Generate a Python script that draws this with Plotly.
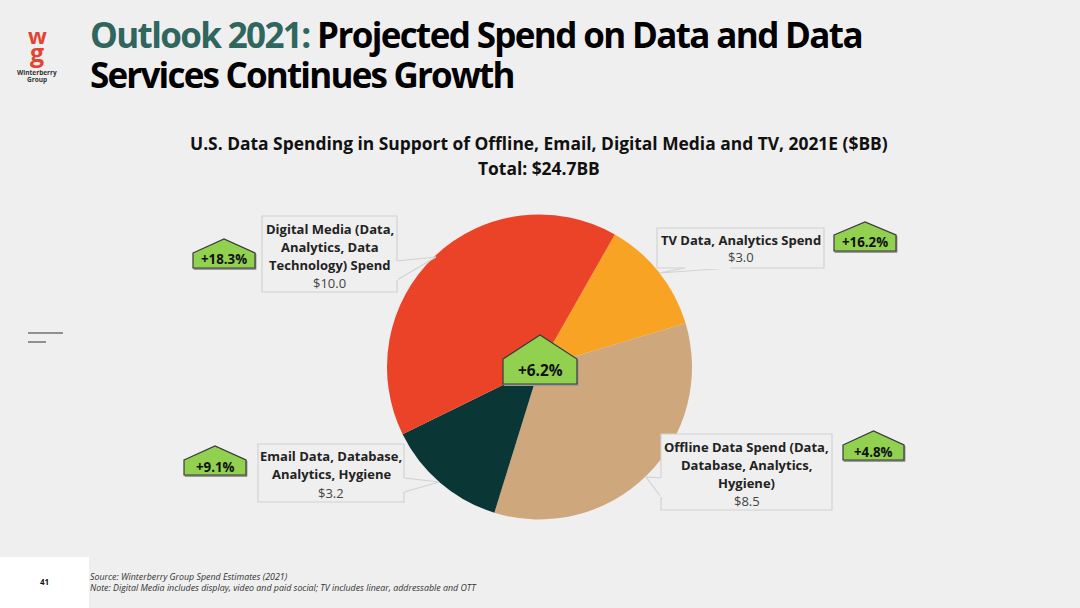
import plotly.graph_objects as go

W, H = 1080, 608
BG = '#efefef'
FONT = 'Open Sans'

# slice order follows the pie clockwise from the top right
categories = ['TV Data, Analytics Spend',
              'Offline Data Spend (Data, Database, Analytics, Hygiene)',
              'Email Data, Database, Analytics, Hygiene',
              'Digital Media (Data, Analytics, Data Technology) Spend']
values = [3.0, 8.5, 3.2, 10.0]
colors = ['#f9a324', '#cea77c', '#0a3636', '#ea4327']

callout_lines = [['TV Data, Analytics Spend'],
                 ['Offline Data Spend (Data,', 'Database, Analytics,', 'Hygiene)'],
                 ['Email Data, Database,', 'Analytics, Hygiene'],
                 ['Digital Media (Data,', 'Analytics, Data', 'Technology) Spend']]
callout_values = ['$3.0', '$8.5', '$3.2', '$10.0']
growth_labels = ['+16.2%', '+4.8%', '+9.1%', '+18.3%', '+6.2%']


def px_x(x):
    return x / W


def px_y(y):
    return 1 - y / H


def poly(points, fill, line_color, line_width=1):
    path = 'M' + ' L'.join(f'{px_x(x):.5f},{px_y(y):.5f}' for x, y in points) + ' Z'
    return dict(type='path', xref='paper', yref='paper', path=path, fillcolor=fill,
                line=dict(color=line_color, width=line_width), layer='above')


def label(x, y, text, size, color='#222222', weight=400, anchor='center', style='normal', family=FONT):
    return dict(xref='paper', yref='paper', x=px_x(x), y=px_y(y), text=text, showarrow=False,
                xanchor=anchor, yanchor='middle', align=anchor,
                font=dict(family=family, size=size, color=color, weight=weight, style=style))


shapes = []
annotations = []

# white page number tab and the two short rules on the left
shapes.append(poly([(0, 557), (89, 557), (89, 608), (0, 608)], 'white', 'white', 0))
shapes.append(poly([(28, 333), (63, 333)], BG, '#333333', 1.2))
shapes.append(poly([(28, 342), (46, 342)], BG, '#333333', 1.2))

# callout boxes: box corners, then the tail (start on box, tip, end on box)
boxes = [
    ((657, 228, 824, 268), [(730, 268), (659, 273), (685, 268)]),
    ((661, 434, 832, 510), [(661, 497), (646, 477), (661, 478)]),
    ((258, 444, 404, 502), [(404, 492), (439, 482), (404, 478)]),
    ((262, 216, 397, 292), [(397, 280), (436, 257), (397, 261)]),
]
for (x0, y0, x1, y1), tail in boxes:
    shapes.append(poly([(x0, y0), (x1, y0), (x1, y1), (x0, y1)], BG, '#d2d2d2', 1.2))
    shapes.append(poly(tail, BG, '#d2d2d2', 1.2))
    # hide the box edge under the tail
    shapes.append(poly([tail[0], tail[2]], BG, BG, 2))

# text rows inside each callout
text_rows = [[240], [447, 465, 483], [456, 474], [229, 247, 265]]
value_rows = [257, 501, 493, 283]
for lines, ys, val, vy, box in zip(callout_lines, text_rows, callout_values, value_rows, boxes):
    cx = (box[0][0] + box[0][2]) / 2
    for line, y in zip(lines, ys):
        annotations.append(label(cx, y, line, 13, weight=700))
    annotations.append(label(cx, vy, val, 13, color='#444444'))

# growth badges: left, right, apex y, shoulder y, bottom y
badges = [(834, 896, 222, 235, 251), (843, 904, 431, 445, 460), (184, 246, 446, 460, 475),
          (193, 255, 239, 253, 268), (503, 577, 335, 359, 384)]
for (x0, x1, top, mid, bot), txt in zip(badges, growth_labels):
    cx = (x0 + x1) / 2
    shapes.append(poly([(x0 + 1, mid + 1), (cx + 1, top + 1), (x1 + 1, mid + 1), (x1 + 1, bot + 1.5), (x0 + 1, bot + 1.5)],
                       '#9a9a9a', '#9a9a9a', 1))
    shapes.append(poly([(x0, mid), (cx, top), (x1, mid), (x1, bot), (x0, bot)], '#92d050', '#3a3a3a', 1.2))
    annotations.append(label(cx, (mid + bot) / 2 - 1, txt,
                             15.4 if x1 - x0 > 70 else 13.3, color='#111111', weight=700))

# heading, tightened to the slide's narrow letter fit
TIGHT = 'letter-spacing:-1.64px'
annotations.append(label(88, 35, f'<span style="color:#2f665e;{TIGHT}">Outlook 2021:</span>'
                                 f'<span style="{TIGHT}"> Projected Spend on Data and Data</span>',
                         35, color='#000000', weight=700, anchor='left'))
annotations.append(label(88, 74, '<span style="letter-spacing:-1.8px">Services Continues Growth</span>',
                         35, color='#000000', weight=700, anchor='left'))
annotations.append(label(539, 143, 'U.S. Data Spending in Support of Offline, Email, Digital Media and TV, 2021E ($BB)',
                         17.4, color='#111111', weight=700))
annotations.append(label(539, 168, 'Total: $24.7BB', 17.4, color='#111111', weight=700))

# logo
annotations.append(label(37, 35, 'w', 22, color='#e5432f', weight=700))
annotations.append(label(37, 52, 'g', 25, color='#e5432f', weight=700))
annotations.append(label(37, 73, 'Winterberry', 6.5, color='#333333', weight=700))
annotations.append(label(37, 80, 'Group', 6.5, color='#333333', weight=700))

# footer
annotations.append(label(44, 581, '41', 8, color='#111111', weight=700))
annotations.append(label(88, 577, 'Source: Winterberry Group Spend Estimates (2021)', 8.85, color='#333333',
                         anchor='left', style='italic'))
annotations.append(label(88, 588, 'Note: Digital Media includes display, video and paid social; TV includes linear, addressable and OTT',
                         8.85, color='#333333', anchor='left', style='italic'))

fig = go.Figure(go.Pie(
    labels=categories, values=values, sort=False, direction='clockwise', rotation=29.6,
    marker=dict(colors=colors, line=dict(width=0)), textinfo='none', hoverinfo='label+value',
    domain=dict(x=[387 / W, 692 / W], y=[1 - 520 / H, 1 - 214 / H]),
    showlegend=False,
))
fig.update_layout(width=W, height=H, margin=dict(l=0, r=0, t=0, b=0), paper_bgcolor=BG,
                  shapes=shapes, annotations=annotations, font=dict(family=FONT))
fig.write_html('out.html', config={'displayModeBar': False},
               post_script="document.body.style.margin='0';")
